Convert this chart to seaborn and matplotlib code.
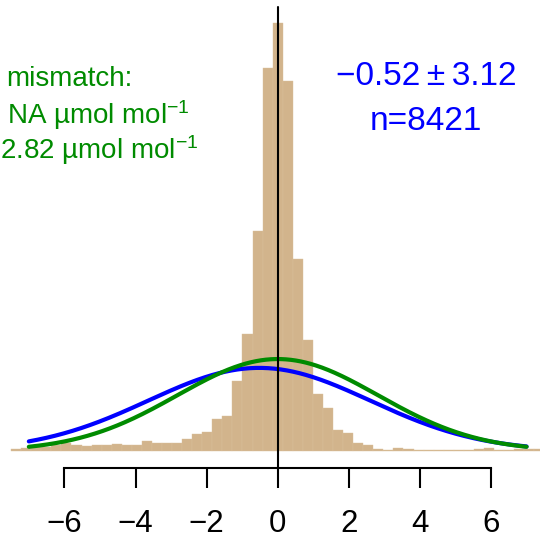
import numpy as np
import pandas as pd
import seaborn as sns
import matplotlib.pyplot as plt

# histogram: 53 equal bins from -7.5 to 7.5, bar heights as density
bin_lo, bin_hi, n_bins = -7.5, 7.5, 53
density = [0.003, 0.004, 0.006, 0.006, 0.009, 0.012, 0.009, 0.008, 0.009, 0.009,
           0.011, 0.010, 0.010, 0.015, 0.012, 0.013, 0.013, 0.018, 0.026, 0.029,
           0.050, 0.054, 0.108, 0.180, 0.338, 0.590, 0.658, 0.570, 0.296, 0.171,
           0.088, 0.066, 0.032, 0.027, 0.013, 0.009, 0.003, 0.002, 0.005, 0.003,
           0.002, 0.002, 0.002, 0.002, 0.002, 0.002, 0.003, 0.004, 0.002, 0.002,
           0.003, 0.003, 0.003]

# fitted normals (mean, sd) shown as curves
blue_mean, blue_sd = -0.52, 3.12
green_mean, green_sd = 0.0, 2.82
n_obs = 8421
curve_lo, curve_hi = -7, 7
tick_vals = [-6, -4, -2, 0, 2, 4, 6]

edges = np.linspace(bin_lo, bin_hi, n_bins + 1)
centers = (edges[:-1] + edges[1:]) / 2
hist_df = pd.DataFrame({'mismatch': centers, 'density': density})


def dnorm(x, m, s):
    return np.exp(-0.5 * ((x - m) / s) ** 2) / (s * np.sqrt(2 * np.pi))


xs = np.linspace(curve_lo, curve_hi, 400)
curve_df = pd.DataFrame({
    'x': np.concatenate([xs, xs]),
    'y': np.concatenate([dnorm(xs, blue_mean, blue_sd), dnorm(xs, green_mean, green_sd)]),
    'fit': ['blue'] * len(xs) + ['green'] * len(xs),
})

sns.set_theme(style='white')
plt.rcParams['font.family'] = ['Liberation Sans', 'DejaVu Sans']
plt.rcParams['mathtext.fontset'] = 'custom'
plt.rcParams['mathtext.rm'] = 'Liberation Sans'
plt.rcParams['mathtext.it'] = 'Liberation Sans:italic'

W, H = 540, 538
fig = plt.figure(figsize=(W / 100, H / 100), dpi=100)
ax = fig.add_axes([0, 0, 1, 1])

sns.histplot(data=hist_df, x='mismatch', weights='density', bins=n_bins,
             binrange=(bin_lo, bin_hi), stat='count',
             color='#D2B48C', alpha=1, edgecolor='#DAC19C', linewidth=0.3, ax=ax)
sns.lineplot(data=curve_df, x='x', y='y', hue='fit', hue_order=['blue', 'green'],
             palette={'blue': '#0000FF', 'green': '#008B00'}, linewidth=3,
             legend=False, ax=ax)

# pixel layout: zero at x=277.7, 35.55 px/unit; baseline y=451, 650 px per density unit
px_unit, x0 = 35.55, 277.7
ax.set_xlim(-x0 / px_unit, (W - x0) / px_unit)
py_unit, y0 = 650, 451
ax.set_ylim(-(H - y0) / py_unit, y0 / py_unit)
axis_y = -(468 - y0) / py_unit

ax.axvline(0, ymin=(H - 468) / H, ymax=(H - 7) / H, color='black', lw=1.5)

for s in ['left', 'top', 'right']:
    ax.spines[s].set_visible(False)
ax.spines['bottom'].set_position(('data', axis_y))
ax.spines['bottom'].set_bounds(tick_vals[0], tick_vals[-1])
ax.spines['bottom'].set_linewidth(1.5)
ax.spines['bottom'].set_color('black')
ax.set_xticks(tick_vals)
ax.set_yticks([])
ax.tick_params(axis='x', direction='out', length=14.5, width=1.5, pad=15,
               labelsize=22.5, colors='black', bottom=True)
ax.set_xlabel('')
ax.set_ylabel('')


def fx(px):
    return px / W


def fy(py):
    return 1 - py / H


ax.text(fx(426), fy(85), f'\u2212{abs(blue_mean):.2f}\u2009\u00b1\u2009{blue_sd:.2f}',
        transform=ax.transAxes, color='#0000FF', fontsize=24, ha='center', va='baseline')
ax.text(fx(426), fy(130), f'n={n_obs}', transform=ax.transAxes, color='#0000FF',
        fontsize=24, ha='center', va='baseline')

green = '#008B00'
ax.text(fx(6.7), fy(86), 'mismatch:', transform=ax.transAxes, color=green,
        fontsize=20, ha='left', va='baseline')
ax.text(fx(7.3), fy(124), 'NA \u00b5mol mol$^{\u22121}$', transform=ax.transAxes, color=green,
        fontsize=20, ha='left', va='baseline')
ax.text(fx(0.5), fy(159), f'{green_sd:.2f} \u00b5mol mol$^{{\u22121}}$', transform=ax.transAxes,
        color=green, fontsize=20, ha='left', va='baseline')

fig.savefig('out.png', dpi=100)
